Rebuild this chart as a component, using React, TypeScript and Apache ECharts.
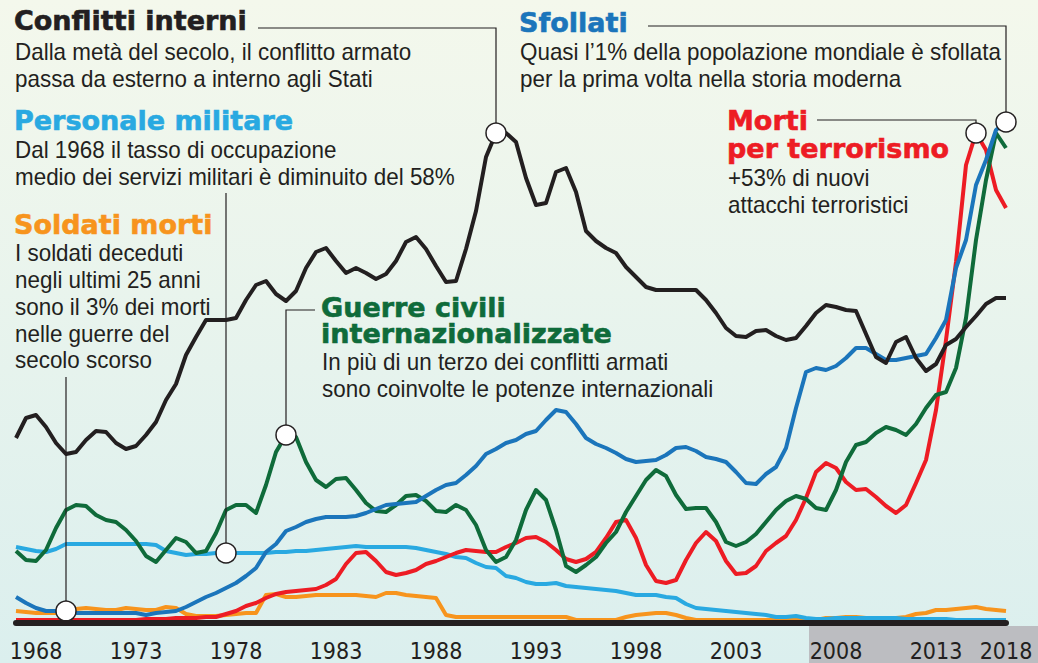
import React, { useEffect, useRef } from "react";
import * as echarts from "echarts";

// Half-year sampling, 1967.0 .. 2016.5
const years: number[] = Array.from({ length: 100 }, (_, i) => 1967 + i * 0.5);

// Index values (relative heights)
const conflittiInterni = [
  183, 203, 206, 194, 178, 167, 169, 181, 190, 189,
  178, 172, 175, 186, 199, 221, 237, 266, 284, 301,
  301, 301, 303, 321, 336, 340, 327, 320, 330, 353,
  369, 373, 360, 348, 353, 348, 342, 347, 360, 379,
  384, 372, 355, 339, 340, 372, 410, 464, 488, 488,
  479, 443, 416, 418, 449, 453, 429, 390, 380, 373,
  368, 354, 344, 334, 331, 331, 331, 331, 331, 321,
  308, 293, 285, 284, 290, 291, 285, 281, 283, 295,
  308, 316, 314, 311, 310, 287, 264, 258, 279, 284,
  263, 250, 257, 276, 282, 294, 305, 317, 323, 323,
];
const sfollati = [
  24, 18, 13, 10, 10, 9, 8, 8, 8, 8,
  8, 8, 8, 6, 8, 9, 10, 14, 19, 24,
  28, 33, 38, 45, 53, 69, 77, 90, 94, 99,
  102, 104, 104, 104, 105, 108, 112, 116, 117, 118,
  119, 125, 131, 136, 138, 146, 155, 167, 172, 178,
  181, 187, 190, 201, 211, 209, 197, 183, 177, 173,
  168, 162, 159, 160, 161, 166, 173, 174, 170, 164,
  162, 159, 149, 138, 137, 147, 154, 173, 213, 249,
  253, 251, 255, 263, 273, 273, 267, 261, 261, 263,
  265, 267, 283, 301, 353, 381, 436, 461, 491, 499,
];
const personaleMilitare = [
  74, 72, 70, 69, 72, 77, 77, 77, 77, 77,
  77, 77, 77, 77, 76, 70, 68, 66, 67, 67,
  68, 68, 68, 68, 68, 68, 69, 69, 70, 70,
  71, 72, 73, 74, 75, 74, 74, 74, 74, 74,
  73, 71, 69, 67, 64, 63, 58, 54, 53, 45,
  43, 39, 37, 37, 38, 35, 34, 33, 32, 31,
  30, 28, 26, 26, 26, 24, 23, 17, 13, 12,
  11, 10, 9, 8, 7, 6, 4, 4, 5, 3,
  2, 2, 3, 3, 3, 3, 3, 3, 3, 2,
  2, 2, 2, 2, 1, 1, 1, 1, 1, 1,
];
const soldatiMorti = [
  10, 9, 8, 8, 8, 10, 12, 13, 12, 11,
  11, 13, 12, 11, 11, 14, 13, 7, 5, 5,
  5, 6, 7, 8, 8, 26, 27, 24, 24, 25,
  26, 26, 26, 26, 26, 25, 24, 28, 28, 26,
  25, 24, 23, 6, 4, 4, 4, 4, 4, 4,
  4, 4, 4, 4, 4, 4, 1, 1, 1, 1,
  1, 4, 6, 7, 8, 8, 6, 3, 1, 1,
  1, 1, 1, 1, 1, 1, 1, 1, 1, 1,
  1, 3, 3, 4, 4, 3, 2, 2, 3, 4,
  7, 8, 11, 11, 12, 13, 14, 12, 11, 10,
];
const guerreCivili = [
  70, 61, 60, 71, 93, 111, 116, 115, 106, 101,
  99, 91, 80, 65, 59, 71, 83, 79, 68, 70,
  88, 111, 116, 116, 108, 136, 169, 186, 184, 159,
  141, 134, 142, 143, 131, 118, 110, 109, 116, 125,
  126, 120, 110, 109, 116, 111, 96, 71, 59, 64,
  81, 111, 131, 121, 91, 55, 49, 56, 64, 78,
  89, 109, 125, 141, 151, 145, 126, 112, 113, 113,
  99, 79, 75, 79, 87, 99, 111, 120, 125, 122,
  113, 111, 131, 159, 176, 179, 188, 194, 191, 186,
  197, 213, 226, 229, 253, 303, 381, 441, 488, 473,
];
const mortiTerrorismo = [
  1, 1, 1, 1, 1, 1, 1, 1, 1, 1,
  1, 1, 1, 2, 2, 2, 3, 3, 3, 4,
  4, 7, 10, 15, 18, 23, 27, 29, 30, 31,
  32, 36, 42, 57, 68, 69, 60, 49, 46, 48,
  51, 57, 60, 64, 68, 71, 70, 69, 69, 74,
  78, 83, 84, 79, 71, 62, 59, 62, 69, 83,
  99, 101, 83, 56, 40, 38, 41, 61, 78, 89,
  80, 60, 47, 48, 55, 70, 78, 85, 101, 123,
  149, 158, 153, 139, 131, 132, 124, 115, 108, 116,
  138, 161, 211, 281, 359, 456, 488, 471, 431, 413,
];

const tickValues = [1968, 1973, 1978, 1983, 1988, 1993, 1998, 2003, 2008, 2013, 2016.5];
const tickLabels = ["1968", "1973", "1978", "1983", "1988", "1993", "1998", "2003", "2008", "2013", "2018"];
const shadeStartYear = 2006.65;

const INK = "#231f20";
const C_BLACK = "#231f20";
const C_DBLUE = "#1b75bb";
const C_LBLUE = "#29a9e1";
const C_ORANGE = "#f7941d";
const C_GREEN = "#0f6b3a";
const C_RED = "#ed1c24";

const TITLE_FONT = '"DejaVu Sans", sans-serif';
const BODY_FONT = '"Liberation Sans", Arial, sans-serif';
const AXIS_FONT = '"DejaVu Sans Condensed", "DejaVu Sans", sans-serif';

type Block = {
  title: string[];
  color: string;
  x: number;
  titleY: number;
  titleStep: number;
  body: string[];
  bodyY: number;
};

const blocks: Block[] = [
  { title: ["Conflitti interni"], color: C_BLACK, x: 14, titleY: 20, titleStep: 26,
    body: ["Dalla metà del secolo, il conflitto armato", "passa da esterno a interno agli Stati"], bodyY: 52 },
  { title: ["Sfollati"], color: C_DBLUE, x: 519, titleY: 22, titleStep: 26,
    body: ["Quasi l’1% della popolazione mondiale è sfollata", "per la prima volta nella storia moderna"], bodyY: 52 },
  { title: ["Personale militare"], color: C_LBLUE, x: 14, titleY: 120, titleStep: 26,
    body: ["Dal 1968 il tasso di occupazione", "medio dei servizi militari è diminuito del 58%"], bodyY: 150 },
  { title: ["Soldati morti"], color: C_ORANGE, x: 14, titleY: 224, titleStep: 26,
    body: ["I soldati deceduti", "negli ultimi 25 anni", "sono il 3% dei morti", "nelle guerre del", "secolo scorso"], bodyY: 253 },
  { title: ["Guerre civili", "internazionalizzate"], color: C_GREEN, x: 321, titleY: 307, titleStep: 26,
    body: ["In più di un terzo dei conflitti armati", "sono coinvolte le potenze internazionali"], bodyY: 362 },
  { title: ["Morti", "per terrorismo"], color: C_RED, x: 727, titleY: 120, titleStep: 28,
    body: ["+53% di nuovi", "attacchi terroristici"], bodyY: 178 },
];

type Callout = { values: number[]; idx: number; kind: "elbow" | "vertical"; fromX: number; lineY: number };
const callouts: Callout[] = [
  { values: conflittiInterni, idx: 48, kind: "elbow", fromX: 258, lineY: 28 },
  { values: sfollati, idx: 99, kind: "elbow", fromX: 648, lineY: 26 },
  { values: mortiTerrorismo, idx: 96, kind: "elbow", fromX: 817, lineY: 120 },
  { values: guerreCivili, idx: 27, kind: "elbow", fromX: 315, lineY: 310 },
  { values: personaleMilitare, idx: 21, kind: "vertical", fromX: 0, lineY: 193 },
  { values: soldatiMorti, idx: 5, kind: "vertical", fromX: 0, lineY: 377 },
];

function pairs(vals: number[]) {
  return vals.map((v, i) => [years[i], v]);
}

function lineSeries(name: string, vals: number[], color: string, z: number) {
  return {
    type: "line",
    name,
    data: pairs(vals),
    symbol: "none",
    lineStyle: { color, width: 4, join: "round", cap: "butt" },
    z,
  };
}

export default function App() {
  const ref = useRef<HTMLDivElement>(null);

  useEffect(() => {
    if (!ref.current) return;
    const chart = echarts.init(ref.current, null, { renderer: "svg" });
    const option: any = {
      animation: false,
      backgroundColor: {
        type: "linear", x: 0, y: 0, x2: 0, y2: 1,
        colorStops: [
          { offset: 0, color: "#f4f8ec" },
          { offset: 1, color: "#dbefee" },
        ],
      },
      grid: { left: 16, right: 32, top: 101, bottom: 40, containLabel: false },
      xAxis: {
        type: "value",
        min: 1967,
        max: 2016.5,
        z: 10,
        axisLine: { show: true, onZero: false, lineStyle: { color: INK, width: 6 } },
        axisTick: { show: false },
        splitLine: { show: false },
        axisLabel: {
          customValues: tickValues,
          formatter: (v: number) => {
            const k = tickValues.indexOf(v);
            return k >= 0 ? tickLabels[k] : "";
          },
          color: INK,
          fontFamily: AXIS_FONT,
          fontSize: 23,
          lineHeight: 23,
          margin: 16,
        },
      },
      yAxis: { type: "value", min: -2, max: 520, show: false },
      series: [
        lineSeries("Soldati morti", soldatiMorti, C_ORANGE, 2),
        lineSeries("Personale militare", personaleMilitare, C_LBLUE, 2),
        lineSeries("Morti per terrorismo", mortiTerrorismo, C_RED, 3),
        lineSeries("Guerre civili internazionalizzate", guerreCivili, C_GREEN, 3),
        lineSeries("Sfollati", sfollati, C_DBLUE, 4),
        lineSeries("Conflitti interni", conflittiInterni, C_BLACK, 4),
        {
          type: "scatter",
          data: callouts.map((c) => [years[c.idx], c.values[c.idx]]),
          symbol: "circle",
          symbolSize: 20,
          itemStyle: { color: "#ffffff", borderColor: INK, borderWidth: 1.5, opacity: 1 },
          z: 8,
          silent: true,
        },
      ],
    };
    chart.setOption(option);

    const px = (x: number, y: number) => chart.convertToPixel({ gridIndex: 0 } as any, [x, y]) as number[];

    const graphics: any[] = [];
    const shadeX = px(shadeStartYear, 0)[0];
    graphics.push({
      type: "rect",
      shape: { x: shadeX, y: 626, width: 1038 - shadeX, height: 40 },
      style: { fill: "#bcbdc1" },
      z: 1,
    });

    callouts.forEach((c) => {
      const p = px(years[c.idx], c.values[c.idx]);
      const pts =
        c.kind === "elbow"
          ? [[c.fromX, c.lineY], [p[0], c.lineY], [p[0], p[1] - 10]]
          : [[p[0], c.lineY], [p[0], p[1] - 10]];
      graphics.push({
        type: "polyline",
        shape: { points: pts },
        style: { stroke: INK, lineWidth: 1.2, fill: null },
        z: 6,
      });
    });

    blocks.forEach((b) => {
      b.title.forEach((t, k) => {
        graphics.push({
          type: "text",
          x: b.x,
          y: b.titleY + k * b.titleStep,
          style: {
            text: t,
            fill: b.color,
            fontFamily: TITLE_FONT,
            fontWeight: "bold",
            fontSize: 27,
            lineHeight: 22,
            align: "left",
            verticalAlign: "middle",
            stroke: b.color,
            lineWidth: 0.6,
          },
          z: 20,
        });
      });
      b.body.forEach((t, k) => {
        graphics.push({
          type: "text",
          x: b.x + 1,
          y: b.bodyY + k * 26.8,
          scaleX: 0.975,
          style: {
            text: t,
            fill: INK,
            fontFamily: BODY_FONT,
            fontSize: 23,
            lineHeight: 24,
            align: "left",
            verticalAlign: "middle",
          },
          z: 20,
        });
      });
    });

    chart.setOption({ graphic: { elements: graphics } });

    return () => {
      chart.dispose();
    };
  }, []);

  return (
    <div
      ref={ref}
      style={{ position: "absolute", left: 0, top: 0, width: 1038, height: 663 }}
    />
  );
}
